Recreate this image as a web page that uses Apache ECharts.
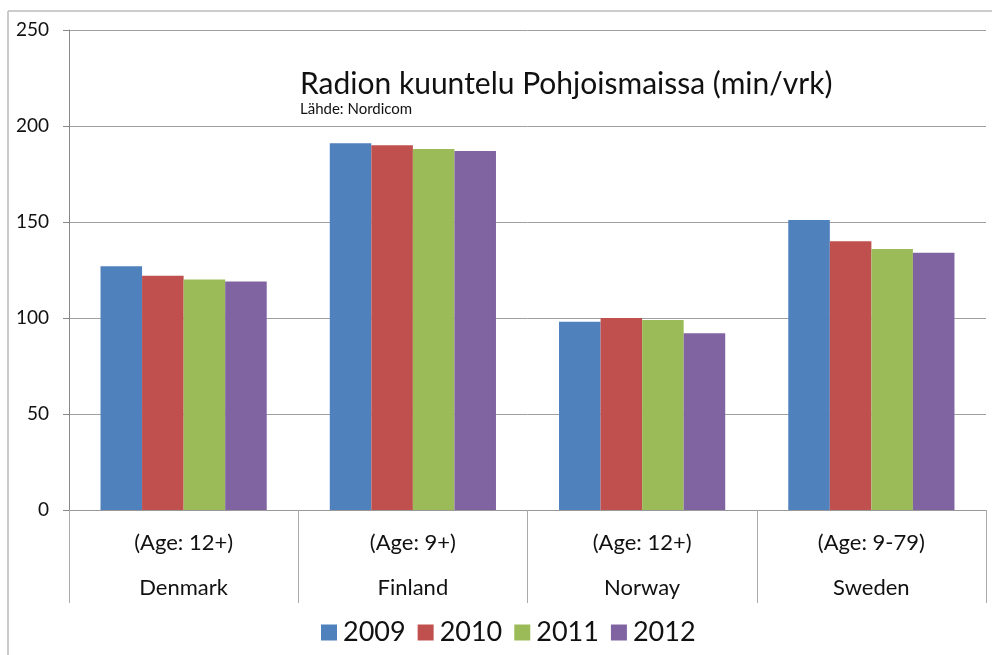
<!DOCTYPE html>
<html>
<head>
<meta charset="utf-8">
<title>Radion kuuntelu Pohjoismaissa</title>
<script src="https://cdn.jsdelivr.net/npm/echarts@6/dist/echarts.min.js"></script>
<style>
  html, body { margin: 0; padding: 0; background: #fff; }
  #chart { width: 992px; height: 655px; }
</style>
</head>
<body>
<div id="chart"></div>
<script>
// data
var countries = ['Denmark', 'Finland', 'Norway', 'Sweden']
var ageGroups = ['(Age: 12+)', '(Age: 9+)', '(Age: 12+)', '(Age: 9-79)']
var years = ['2009', '2010', '2011', '2012']
var values2009 = [127, 191, 98, 151]
var values2010 = [122, 190, 100, 140]
var values2011 = [120, 188, 99, 136]
var values2012 = [119, 187, 92, 134]
var yTicks = [0, 50, 100, 150, 200, 250]

var colors = ['#4F81BD', '#C0504D', '#9BBB59', '#8064A2']
var font = 'Lato, "Liberation Sans", sans-serif'

let myChart = echarts.init(document.getElementById('chart'))

let seriesValues = [values2009, values2010, values2011, values2012]
let option = {
  animation: false,
  color: colors,
  textStyle: { fontFamily: font },
  title: {
    text: 'Radion kuuntelu Pohjoismaissa (min/vrk)',
    subtext: 'Lähde: Nordicom',
    left: 300,
    top: 68,
    padding: 0,
    itemGap: 1,
    textStyle: { fontFamily: font, fontSize: 30, lineHeight: 32, fontWeight: 'normal', color: '#111' },
    subtextStyle: { fontFamily: font, fontSize: 15, lineHeight: 16, color: '#111' }
  },
  legend: {
    data: years,
    left: 321,
    top: 619,
    padding: 0,
    icon: 'rect',
    itemWidth: 16,
    itemHeight: 16,
    itemGap: 12,
    textStyle: { fontFamily: font, fontSize: 27, color: '#111', padding: [0, 0, 0, 1] }
  },
  grid: {
    left: 69,
    right: 6,
    top: 30,
    bottom: 145,
    containLabel: false
  },
  xAxis: {
    type: 'category',
    data: countries,
    axisLine: { lineStyle: { color: '#999' } },
    axisTick: { show: true, interval: 0, length: 93, lineStyle: { color: '#aaa' } },
    axisLabel: {
      interval: 0,
      margin: 10,
      fontSize: 22,
      lineHeight: 45,
      color: '#111',
      formatter: function (value, idx) {
        return ageGroups[idx] + '\n' + value
      }
    }
  },
  yAxis: {
    type: 'value',
    min: yTicks[0],
    max: yTicks[yTicks.length - 1],
    interval: 50,
    axisLine: { show: true, lineStyle: { color: '#888' } },
    axisTick: { show: true, length: 6, lineStyle: { color: '#888' } },
    axisLabel: { fontSize: 19, color: '#111', margin: 20 },
    splitLine: { lineStyle: { color: '#a0a0a0' } }
  },
  series: years.map(function (y, i) {
    return {
      name: y,
      type: 'bar',
      data: seriesValues[i],
      barGap: '0%',
      barCategoryGap: '27.5%'
    }
  }),
  graphic: [
    { type: 'line', shape: { x1: 8, y1: 11, x2: 992, y2: 11 }, style: { stroke: '#bbb', lineWidth: 1.5 } },
    { type: 'line', shape: { x1: 8, y1: 11, x2: 8, y2: 655 }, style: { stroke: '#bbb', lineWidth: 1.5 } }
  ]
}
myChart.setOption(option)
</script>
</body>
</html>
